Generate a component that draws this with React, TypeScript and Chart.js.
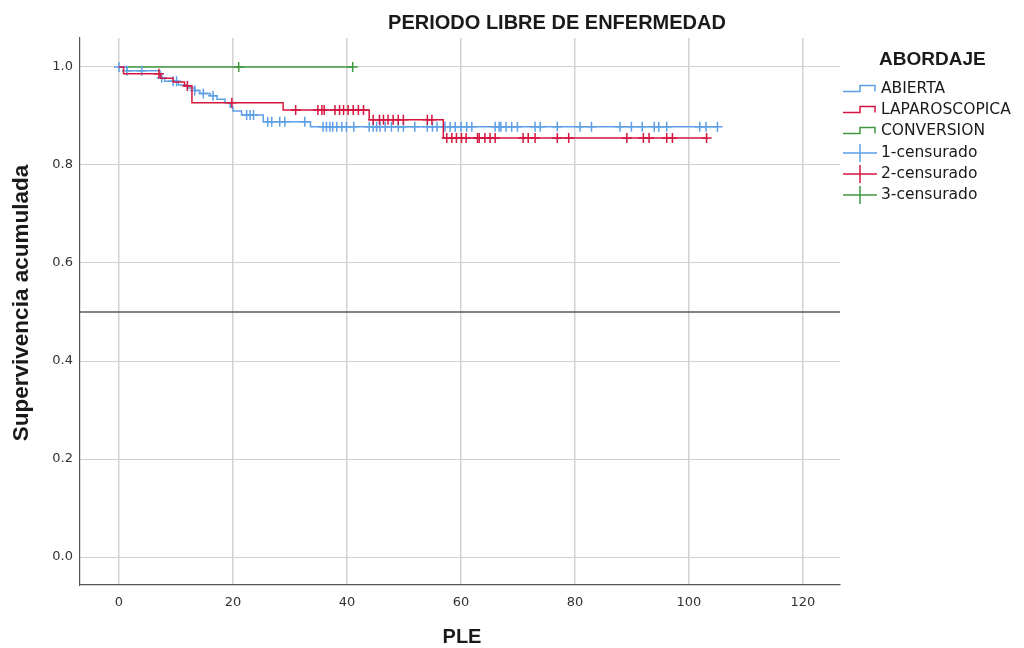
import React, { useEffect, useRef } from "react";
import { Chart, registerables } from "chart.js";

Chart.register(...registerables);

// ---- Data ----
const abiertaTimes = [0, 1.4, 7.2, 8.0, 10.4, 12.0, 13.3, 14.2, 16.0, 17.2, 18.6, 19.5, 20.0, 21.5, 25.3, 33.6, 105];
const abiertaSurv = [1.0, 0.992, 0.978, 0.971, 0.963, 0.957, 0.952, 0.946, 0.941, 0.934, 0.927, 0.918, 0.91, 0.902, 0.888, 0.878, 0.878];

const laparoTimes = [0, 0.8, 7.3, 9.5, 11.5, 12.8, 28.8, 43.9, 56.9, 103.1];
const laparoSurv = [1.0, 0.986, 0.977, 0.969, 0.961, 0.927, 0.912, 0.892, 0.855, 0.855];

const conversionTimes = [0, 41];
const conversionSurv = [1.0, 1.0];

const abiertaCensored = [0, 1.4, 4.0, 7.5, 9.5, 10.1, 13.3, 14.8, 16.5, 22.4, 23.0, 23.6, 26.1, 26.8, 28.2, 29.1, 32.6, 35.8, 36.4, 37.0, 37.5, 38.2, 39.1, 39.9, 41.2, 43.9, 44.6, 45.2, 45.8, 46.7, 47.8, 49.0, 49.9, 51.9, 54.1, 55.0, 55.8, 57.2, 58.1, 59.0, 60.0, 61.0, 61.9, 66.0, 66.7, 67.0, 67.9, 68.9, 69.9, 73.0, 73.9, 76.9, 80.9, 82.9, 87.9, 89.9, 91.8, 93.9, 94.7, 96.1, 101.9, 103.0, 105.0];
const laparoCensored = [7.0, 12.0, 19.8, 31.0, 34.9, 35.6, 36.0, 37.9, 38.7, 39.4, 40.2, 41.1, 42.0, 42.9, 44.6, 45.7, 46.4, 47.2, 48.1, 49.0, 49.9, 54.1, 54.9, 57.5, 58.4, 59.2, 60.1, 60.9, 62.9, 63.2, 64.2, 65.1, 66.0, 70.9, 71.8, 73.0, 76.9, 78.9, 89.1, 92.0, 93.0, 96.1, 97.1, 103.1];
const conversionCensored = [21, 41];

const xTicks = [0, 20, 40, 60, 80, 100, 120];
const yTicks = [0.0, 0.2, 0.4, 0.6, 0.8, 1.0];

const groupLabels = ["ABIERTA", "LAPAROSCOPICA", "CONVERSION"];
const censorLabels = ["1-censurado", "2-censurado", "3-censurado"];
const legendTitle = "ABORDAJE";
const chartTitle = "PERIODO LIBRE DE ENFERMEDAD";
const yTitle = "Supervivencia acumulada";
const xTitle = "PLE";
const referenceLevel = 0.5;

const BLUE = "#5e9fe6";
const RED = "#d5173f";
const GREEN = "#3f983f";
const colors = [BLUE, RED, GREEN];

function survivalAt(times: number[], surv: number[], t: number) {
  let s = surv[0];
  for (let i = 0; i < times.length; i++) if (times[i] <= t) s = surv[i];
  return s;
}

const curve = (times: number[], surv: number[]) => times.map((t, i) => ({ x: t, y: surv[i] }));
const censors = (times: number[], surv: number[], cens: number[]) =>
  cens.map((t) => ({ x: t, y: survivalAt(times, surv, t) }));

const SANS = "'DejaVu Sans', sans-serif";
const BOLD = "'Liberation Sans', Arial, sans-serif";

const overlayPlugin = {
  id: "overlay",
  beforeDatasetsDraw(chart: any) {
    const { ctx, chartArea, scales } = chart;
    const y = scales.y.getPixelForValue(referenceLevel);
    ctx.save();
    ctx.strokeStyle = "#5a5a5a";
    ctx.lineWidth = 1.5;
    ctx.beginPath();
    ctx.moveTo(chartArea.left, y);
    ctx.lineTo(chartArea.right, y);
    ctx.stroke();
    ctx.restore();
  },
  afterDraw(chart: any) {
    const { ctx, chartArea } = chart;
    ctx.save();
    ctx.fillStyle = "#1a1a1a";
    ctx.textAlign = "center";
    ctx.textBaseline = "middle";
    // chart title
    ctx.font = `bold 20px ${BOLD}`;
    ctx.fillText(chartTitle, 557, 23);
    // x title
    ctx.font = `bold 20px ${BOLD}`;
    ctx.fillText(xTitle, (chartArea.left + chartArea.right) / 2 + 2, 637);
    // y title
    ctx.save();
    ctx.translate(22, 303);
    ctx.rotate(-Math.PI / 2);
    ctx.font = `bold 22.5px ${BOLD}`;
    ctx.fillText(yTitle, 0, 0);
    ctx.restore();

    // legend
    ctx.textAlign = "left";
    ctx.font = `bold 19px ${BOLD}`;
    ctx.fillText(legendTitle, 879, 60);
    const rows = [89, 110, 131, 153, 174, 195];
    ctx.font = `15.5px ${SANS}`;
    ctx.lineWidth = 1.5;
    for (let i = 0; i < 3; i++) {
      const r = rows[i];
      ctx.strokeStyle = colors[i];
      ctx.beginPath();
      ctx.moveTo(843, r + 2.5);
      ctx.lineTo(860, r + 2.5);
      ctx.lineTo(860, r - 3.5);
      ctx.lineTo(875, r - 3.5);
      ctx.lineTo(875, r + 2.5);
      ctx.stroke();
      ctx.fillStyle = "#1a1a1a";
      ctx.fillText(groupLabels[i], 881, r);
    }
    for (let i = 0; i < 3; i++) {
      const r = rows[i + 3];
      ctx.strokeStyle = colors[i];
      ctx.beginPath();
      ctx.moveTo(843, r);
      ctx.lineTo(877, r);
      ctx.moveTo(860, r - 9);
      ctx.lineTo(860, r + 9);
      ctx.stroke();
      ctx.fillStyle = "#1a1a1a";
      ctx.fillText(censorLabels[i], 881, r);
    }
    ctx.restore();
  },
};

export default function App() {
  const canvasRef = useRef<HTMLCanvasElement | null>(null);

  useEffect(() => {
    if (!canvasRef.current) return;
    const lineDs = (label: string, data: any[], color: string) => ({
      type: "line" as const,
      label,
      data,
      borderColor: color,
      backgroundColor: color,
      borderWidth: 1.5,
      stepped: true,
      pointRadius: 0,
      fill: false,
      showLine: true,
    });
    const censDs = (label: string, data: any[], color: string) => ({
      type: "scatter" as const,
      label,
      data,
      borderColor: color,
      backgroundColor: color,
      pointStyle: "cross",
      pointRadius: 5,
      pointBorderWidth: 1.5,
      borderWidth: 1.5,
      showLine: false,
    });

    const chart = new Chart(canvasRef.current, {
      type: "scatter",
      data: {
        datasets: [
          censDs(censorLabels[1], censors(laparoTimes, laparoSurv, laparoCensored), RED),
          lineDs(groupLabels[1], curve(laparoTimes, laparoSurv), RED),
          censDs(censorLabels[0], censors(abiertaTimes, abiertaSurv, abiertaCensored), BLUE),
          lineDs(groupLabels[0], curve(abiertaTimes, abiertaSurv), BLUE),
          censDs(censorLabels[2], censors(conversionTimes, conversionSurv, conversionCensored), GREEN),
          lineDs(groupLabels[2], curve(conversionTimes, conversionSurv), GREEN),
        ] as any,
      },
      options: {
        animation: false,
        responsive: false,
        layout: { padding: { top: 38, right: 184, left: 0, bottom: 0 } },
        plugins: {
          legend: { display: false },
          title: { display: false },
          tooltip: { enabled: false },
        },
        scales: {
          x: {
            type: "linear",
            min: -6.84,
            max: 126.5,
            afterFit: (s: any) => {
              s.height = 63;
            },
            afterBuildTicks: (s: any) => {
              s.ticks = xTicks.map((v) => ({ value: v }));
            },
            ticks: {
              font: { family: SANS, size: 13 },
              color: "#333",
              padding: 10,
              callback: (v: any) => String(v),
            },
            grid: { color: "#d2d2d2", lineWidth: 1.5, drawTicks: false },
            border: { color: "#555", width: 1.2 },
          },
          y: {
            type: "linear",
            min: -0.057,
            max: 1.059,
            afterFit: (s: any) => {
              s.width = 80;
            },
            afterBuildTicks: (s: any) => {
              s.ticks = yTicks.map((v) => ({ value: v }));
            },
            ticks: {
              font: { family: SANS, size: 13 },
              color: "#333",
              padding: 7,
              callback: (v: any) => Number(v).toFixed(1),
            },
            grid: { color: "#cfcfcf", lineWidth: 1, drawTicks: false },
            border: { color: "#555", width: 1.2 },
          },
        },
      },
      plugins: [overlayPlugin],
    });
    return () => chart.destroy();
  }, []);

  return (
    <div style={{ position: "fixed", left: 0, top: 0, width: 1024, height: 648, background: "#fff" }}>
      <canvas ref={canvasRef} width={1024} height={648} />
    </div>
  );
}
